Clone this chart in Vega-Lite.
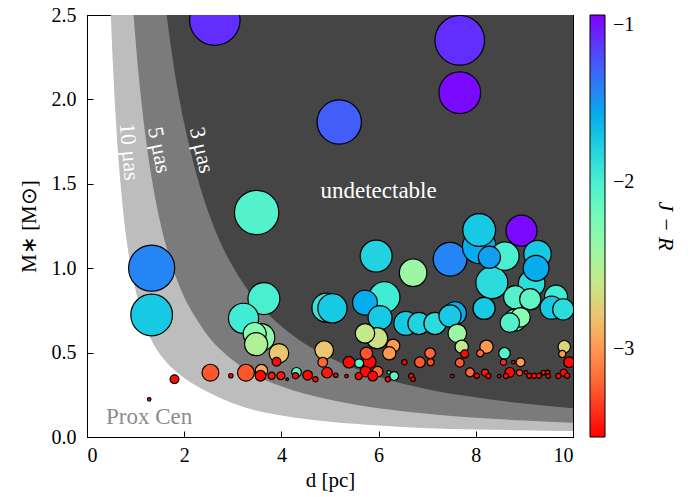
{
  "$schema": "https://vega.github.io/schema/vega-lite/v6.json",
  "width": 486,
  "height": 422,
  "autosize": {"type": "none"},
  "padding": {"left": 87, "top": 15, "right": 124, "bottom": 60},
  "background": "white",
  "config": {
    "view": {"stroke": "black", "strokeWidth": 1},
    "font": "Liberation Serif",
    "axis": {
      "grid": false,
      "domainColor": "black",
      "tickColor": "black",
      "labelColor": "black",
      "titleColor": "black",
      "labelFont": "Liberation Serif",
      "titleFont": "Liberation Serif",
      "labelFontSize": 20,
      "titleFontSize": 21,
      "titleFontWeight": "normal",
      "tickSize": -6,
      "labelPadding": 14,
      "tickWidth": 1
    }
  },
  "datasets": {
    "c10": [
      {"d": 0.35, "m": 4.15}, {"d": 0.4, "m": 3.4}, {"d": 0.45, "m": 2.85}, {"d": 0.5, "m": 2.43},
      {"d": 0.55, "m": 2.11}, {"d": 0.6, "m": 1.85}, {"d": 0.7, "m": 1.47}, {"d": 0.8, "m": 1.2},
      {"d": 0.9, "m": 1.01}, {"d": 1.0, "m": 0.87}, {"d": 1.2, "m": 0.66}, {"d": 1.4, "m": 0.535},
      {"d": 1.6, "m": 0.455}, {"d": 1.8, "m": 0.395}, {"d": 2.0, "m": 0.35}, {"d": 2.5, "m": 0.265},
      {"d": 3.0, "m": 0.2}, {"d": 3.5, "m": 0.155}, {"d": 4.0, "m": 0.127}, {"d": 5.0, "m": 0.09},
      {"d": 6.0, "m": 0.068}, {"d": 7.0, "m": 0.052}, {"d": 8.0, "m": 0.045}, {"d": 9.0, "m": 0.04},
      {"d": 10.0, "m": 0.035}
    ],
    "c5": [
      {"d": 0.8, "m": 3.28}, {"d": 0.9, "m": 2.75}, {"d": 1.0, "m": 2.35}, {"d": 1.1, "m": 2.04},
      {"d": 1.2, "m": 1.79}, {"d": 1.35, "m": 1.5}, {"d": 1.5, "m": 1.28}, {"d": 1.75, "m": 1.015},
      {"d": 2.0, "m": 0.83}, {"d": 2.25, "m": 0.7}, {"d": 2.5, "m": 0.595}, {"d": 3.0, "m": 0.455},
      {"d": 3.5, "m": 0.36}, {"d": 4.0, "m": 0.3}, {"d": 5.0, "m": 0.22}, {"d": 6.0, "m": 0.17},
      {"d": 7.0, "m": 0.138}, {"d": 8.0, "m": 0.114}, {"d": 9.0, "m": 0.098}, {"d": 10.0, "m": 0.085}
    ],
    "c3": [
      {"d": 1.4, "m": 3.17}, {"d": 1.5, "m": 2.86}, {"d": 1.64, "m": 2.5}, {"d": 1.8, "m": 2.17},
      {"d": 2.0, "m": 1.86}, {"d": 2.25, "m": 1.56}, {"d": 2.5, "m": 1.33}, {"d": 2.75, "m": 1.15},
      {"d": 3.0, "m": 1.01}, {"d": 3.5, "m": 0.8}, {"d": 4.0, "m": 0.656}, {"d": 4.5, "m": 0.55},
      {"d": 5.0, "m": 0.47}, {"d": 6.0, "m": 0.357}, {"d": 7.0, "m": 0.283}, {"d": 8.0, "m": 0.235},
      {"d": 9.0, "m": 0.198}, {"d": 10.0, "m": 0.17}
    ],
    "stars": [
      {"d": 2.63, "m": 2.47, "r": 57, "jr": -1.15},
      {"d": 7.67, "m": 2.35, "r": 56, "jr": -1.15},
      {"d": 7.67, "m": 2.04, "r": 47, "jr": -1.03},
      {"d": 5.19, "m": 1.866, "r": 50, "jr": -1.3},
      {"d": 3.49, "m": 1.33, "r": 50, "jr": -2.05},
      {"d": 1.33, "m": 1.0, "r": 52, "jr": -1.45},
      {"d": 1.33, "m": 0.723, "r": 47, "jr": -1.75},
      {"d": 1.28, "m": 0.223, "r": 4, "jr": -3.5},
      {"d": 1.8, "m": 0.342, "r": 10, "jr": -3.5},
      {"d": 2.54, "m": 0.381, "r": 19, "jr": -3.25},
      {"d": 2.96, "m": 0.363, "r": 5, "jr": -3.5},
      {"d": 3.27, "m": 0.381, "r": 19, "jr": -3.25},
      {"d": 3.22, "m": 0.703, "r": 34, "jr": -1.95},
      {"d": 3.64, "m": 0.82, "r": 36, "jr": -2.0},
      {"d": 3.45, "m": 0.61, "r": 26, "jr": -2.3},
      {"d": 3.48, "m": 0.55, "r": 26, "jr": -2.5},
      {"d": 3.58, "m": 0.59, "r": 31, "jr": -2.35},
      {"d": 3.95, "m": 0.496, "r": 22, "jr": -2.8},
      {"d": 3.9, "m": 0.446, "r": 10, "jr": -3.5},
      {"d": 3.59, "m": 0.393, "r": 14, "jr": -2.95},
      {"d": 3.57, "m": 0.363, "r": 12, "jr": -3.5},
      {"d": 3.8, "m": 0.363, "r": 8, "jr": -3.45},
      {"d": 3.99, "m": 0.363, "r": 9, "jr": -3.45},
      {"d": 4.12, "m": 0.342, "r": 3, "jr": -3.5},
      {"d": 4.31, "m": 0.383, "r": 11, "jr": -2.05},
      {"d": 4.29, "m": 0.363, "r": 7, "jr": -3.5},
      {"d": 4.54, "m": 0.366, "r": 11, "jr": -3.5},
      {"d": 4.7, "m": 0.342, "r": 6, "jr": -3.5},
      {"d": 4.94, "m": 0.381, "r": 12, "jr": -3.45},
      {"d": 4.85, "m": 0.443, "r": 11, "jr": -3.2},
      {"d": 4.88, "m": 0.515, "r": 21, "jr": -2.8},
      {"d": 5.12, "m": 0.366, "r": 5, "jr": -3.5},
      {"d": 4.93, "m": 0.766, "r": 33, "jr": -1.9},
      {"d": 5.05, "m": 0.762, "r": 33, "jr": -1.75},
      {"d": 5.95, "m": 1.072, "r": 36, "jr": -1.8},
      {"d": 6.71, "m": 0.973, "r": 31, "jr": -2.4},
      {"d": 7.47, "m": 1.053, "r": 38, "jr": -1.45},
      {"d": 6.12, "m": 0.828, "r": 35, "jr": -1.95},
      {"d": 5.72, "m": 0.796, "r": 28, "jr": -1.6},
      {"d": 6.03, "m": 0.707, "r": 27, "jr": -1.75},
      {"d": 6.56, "m": 0.673, "r": 27, "jr": -1.75},
      {"d": 6.83, "m": 0.673, "r": 25, "jr": -1.8},
      {"d": 7.16, "m": 0.673, "r": 25, "jr": -1.85},
      {"d": 5.72, "m": 0.614, "r": 22, "jr": -2.6},
      {"d": 5.97, "m": 0.585, "r": 24, "jr": -2.65},
      {"d": 6.3, "m": 0.541, "r": 15, "jr": -3.0},
      {"d": 6.22, "m": 0.496, "r": 15, "jr": -3.0},
      {"d": 7.57, "m": 0.733, "r": 26, "jr": -1.6},
      {"d": 7.47, "m": 0.717, "r": 25, "jr": -1.75},
      {"d": 7.62, "m": 0.614, "r": 21, "jr": -2.4},
      {"d": 7.71, "m": 0.535, "r": 15, "jr": -2.6},
      {"d": 7.77, "m": 0.492, "r": 9, "jr": -3.5},
      {"d": 8.22, "m": 0.535, "r": 15, "jr": -3.0},
      {"d": 8.09, "m": 0.496, "r": 8, "jr": -3.2},
      {"d": 8.59, "m": 0.496, "r": 13, "jr": -2.05},
      {"d": 8.92, "m": 0.443, "r": 10, "jr": -3.0},
      {"d": 8.57, "m": 0.443, "r": 7, "jr": -3.4},
      {"d": 8.77, "m": 0.443, "r": 4, "jr": -3.5},
      {"d": 9.82, "m": 0.535, "r": 14, "jr": -2.7},
      {"d": 9.78, "m": 0.492, "r": 8, "jr": -3.0},
      {"d": 9.92, "m": 0.443, "r": 12, "jr": -3.5},
      {"d": 8.07, "m": 1.226, "r": 37, "jr": -1.75},
      {"d": 8.07, "m": 1.127, "r": 38, "jr": -1.6},
      {"d": 8.94, "m": 1.222, "r": 35, "jr": -1.03},
      {"d": 8.6, "m": 1.072, "r": 32, "jr": -2.0},
      {"d": 9.27, "m": 1.084, "r": 31, "jr": -1.75},
      {"d": 9.24, "m": 1.0, "r": 29, "jr": -1.6},
      {"d": 8.33, "m": 0.914, "r": 36, "jr": -1.85},
      {"d": 9.15, "m": 0.91, "r": 30, "jr": -1.85},
      {"d": 8.28, "m": 1.065, "r": 25, "jr": -1.55},
      {"d": 8.81, "m": 0.828, "r": 26, "jr": -2.05},
      {"d": 9.12, "m": 0.816, "r": 24, "jr": -2.1},
      {"d": 9.65, "m": 0.831, "r": 26, "jr": -1.95},
      {"d": 9.56, "m": 0.766, "r": 26, "jr": -1.75},
      {"d": 9.8, "m": 0.756, "r": 24, "jr": -1.85},
      {"d": 8.17, "m": 0.762, "r": 25, "jr": -1.75},
      {"d": 8.81, "m": 0.693, "r": 25, "jr": -2.1},
      {"d": 8.92, "m": 0.709, "r": 22, "jr": -2.3},
      {"d": 8.7, "m": 0.677, "r": 22, "jr": -2.05},
      {"d": 5.34, "m": 0.361, "r": 4, "jr": -3.5},
      {"d": 5.39, "m": 0.443, "r": 13, "jr": -3.5},
      {"d": 5.6, "m": 0.437, "r": 10, "jr": -2.1},
      {"d": 5.81, "m": 0.446, "r": 15, "jr": -3.5},
      {"d": 5.75, "m": 0.496, "r": 14, "jr": -3.25},
      {"d": 5.73, "m": 0.387, "r": 12, "jr": -3.5},
      {"d": 5.98, "m": 0.387, "r": 12, "jr": -3.2},
      {"d": 5.88, "m": 0.361, "r": 11, "jr": -3.5},
      {"d": 5.59, "m": 0.361, "r": 8, "jr": -3.5},
      {"d": 6.19, "m": 0.342, "r": 6, "jr": -3.5},
      {"d": 6.32, "m": 0.361, "r": 10, "jr": -2.1},
      {"d": 6.21, "m": 0.383, "r": 4, "jr": -2.1},
      {"d": 6.67, "m": 0.361, "r": 6, "jr": -3.5},
      {"d": 6.71, "m": 0.342, "r": 5, "jr": -3.5},
      {"d": 6.53, "m": 0.443, "r": 6, "jr": -3.5},
      {"d": 6.85, "m": 0.443, "r": 12, "jr": -3.25},
      {"d": 7.06, "m": 0.496, "r": 12, "jr": -3.2},
      {"d": 7.07, "m": 0.443, "r": 8, "jr": -3.3},
      {"d": 7.67, "m": 0.44, "r": 10, "jr": -3.25},
      {"d": 7.52, "m": 0.361, "r": 4, "jr": -3.5},
      {"d": 7.88, "m": 0.383, "r": 10, "jr": -3.2},
      {"d": 8.02, "m": 0.363, "r": 6, "jr": -3.5},
      {"d": 8.19, "m": 0.381, "r": 8, "jr": -3.45},
      {"d": 8.26, "m": 0.361, "r": 6, "jr": -3.5},
      {"d": 8.48, "m": 0.361, "r": 4, "jr": -3.5},
      {"d": 8.7, "m": 0.383, "r": 11, "jr": -3.5},
      {"d": 8.62, "m": 0.361, "r": 6, "jr": -3.5},
      {"d": 8.9, "m": 0.381, "r": 7, "jr": -3.3},
      {"d": 9.03, "m": 0.383, "r": 4, "jr": -3.5},
      {"d": 9.1, "m": 0.363, "r": 6, "jr": -3.5},
      {"d": 9.2, "m": 0.363, "r": 6, "jr": -3.5},
      {"d": 9.3, "m": 0.363, "r": 6, "jr": -3.5},
      {"d": 9.39, "m": 0.381, "r": 5, "jr": -3.5},
      {"d": 9.48, "m": 0.383, "r": 5, "jr": -3.5},
      {"d": 9.49, "m": 0.361, "r": 5, "jr": -3.5},
      {"d": 9.7, "m": 0.361, "r": 6, "jr": -3.5},
      {"d": 9.81, "m": 0.381, "r": 8, "jr": -3.5},
      {"d": 9.88, "m": 0.363, "r": 6, "jr": -3.5}
    ]
  },
  "layer": [
    {
      "data": {"name": "c10"},
      "mark": {"type": "area", "color": "#bdbdbd", "clip": true, "interpolate": "monotone"},
      "encoding": {
        "x": {"field": "d", "type": "quantitative", "scale": {"domain": [0, 10], "nice": false, "zero": false},
              "axis": {"orient": "bottom", "title": "d [pc]", "values": [0, 2, 4, 6, 8, 10], "format": "d", "titlePadding": 4,
                       "labelFont": "Liberation Serif", "titleFont": "Liberation Serif"}},
        "y": {"field": "m", "type": "quantitative", "scale": {"domain": [0, 2.5], "nice": false},
              "axis": {"orient": "left", "title": "M∗ [M⊙]", "values": [0, 0.5, 1, 1.5, 2, 2.5], "format": ".1f", "titlePadding": 12,
                       "labelPadding": 17, "labelFont": "Liberation Serif", "titleFont": "Liberation Serif"}},
        "y2": {"datum": 2.5}
      }
    },
    {
      "data": {"name": "c5"},
      "mark": {"type": "area", "color": "#7b7b7b", "clip": true, "interpolate": "monotone"},
      "encoding": {
        "x": {"field": "d", "type": "quantitative", "axis": {"orient": "top", "title": null, "labels": false, "values": [0, 2, 4, 6, 8, 10]}},
        "y": {"field": "m", "type": "quantitative", "axis": {"orient": "right", "title": null, "labels": false, "values": [0, 0.5, 1, 1.5, 2, 2.5]}},
        "y2": {"datum": 2.5}
      }
    },
    {
      "data": {"name": "c3"},
      "mark": {"type": "area", "color": "#454545", "clip": true, "interpolate": "monotone"},
      "encoding": {
        "x": {"field": "d", "type": "quantitative", "axis": null},
        "y": {"field": "m", "type": "quantitative", "axis": null},
        "y2": {"datum": 2.5}
      }
    },
    {
      "data": {"values": [{"t": "undetectable", "d": 6.0, "m": 1.46}]},
      "mark": {"type": "text", "color": "white", "fontSize": 23, "font": "Liberation Serif", "align": "center", "baseline": "middle"},
      "encoding": {
        "x": {"field": "d", "type": "quantitative", "axis": null},
        "y": {"field": "m", "type": "quantitative", "axis": null},
        "text": {"field": "t"}
      }
    },
    {
      "data": {"values": [{"t": "10 μas", "d": 0.87, "m": 1.69}]},
      "mark": {"type": "text", "color": "white", "fontSize": 22, "font": "Liberation Serif", "align": "center", "baseline": "middle", "angle": 85},
      "encoding": {
        "x": {"field": "d", "type": "quantitative", "axis": null},
        "y": {"field": "m", "type": "quantitative", "axis": null},
        "text": {"field": "t"}
      }
    },
    {
      "data": {"values": [{"t": "5 μas", "d": 1.49, "m": 1.7}]},
      "mark": {"type": "text", "color": "white", "fontSize": 22, "font": "Liberation Serif", "align": "center", "baseline": "middle", "angle": 79},
      "encoding": {
        "x": {"field": "d", "type": "quantitative", "axis": null},
        "y": {"field": "m", "type": "quantitative", "axis": null},
        "text": {"field": "t"}
      }
    },
    {
      "data": {"values": [{"t": "3 μas", "d": 2.36, "m": 1.7}]},
      "mark": {"type": "text", "color": "white", "fontSize": 22, "font": "Liberation Serif", "align": "center", "baseline": "middle", "angle": 77},
      "encoding": {
        "x": {"field": "d", "type": "quantitative", "axis": null},
        "y": {"field": "m", "type": "quantitative", "axis": null},
        "text": {"field": "t"}
      }
    },
    {
      "data": {"values": [{"t": "Prox Cen", "d": 1.28, "m": 0.12}]},
      "mark": {"type": "text", "color": "#8c8c8c", "fontSize": 23, "font": "Liberation Serif", "align": "center", "baseline": "middle"},
      "encoding": {
        "x": {"field": "d", "type": "quantitative", "axis": null},
        "y": {"field": "m", "type": "quantitative", "axis": null},
        "text": {"field": "t"}
      }
    },
    {
      "data": {"name": "stars"},
      "mark": {"type": "circle", "stroke": "black", "strokeWidth": 1.2, "opacity": 1, "fillOpacity": 1, "clip": true},
      "encoding": {
        "x": {"field": "d", "type": "quantitative", "axis": null},
        "y": {"field": "m", "type": "quantitative", "axis": null},
        "size": {"field": "r", "type": "quantitative", "scale": {"type": "pow", "exponent": 2, "domain": [0, 60], "range": [0, 2827]}, "legend": null},
        "order": {"field": "r", "sort": "descending"},
        "fill": {
          "field": "jr", "type": "quantitative",
          "scale": {
            "domain": [-3.53, -3.21375, -2.8975, -2.58125, -2.265, -1.94875, -1.6325, -1.31625, -1.0],
            "range": ["#ff0000", "#ff6232", "#ffb462", "#c0ec8e", "#80ffb4", "#40ecd4", "#00b4ec", "#4062fa", "#8000ff"],
            "interpolate": "rgb"
          },
          "legend": {
            "title": "J − R",
            "orient": "right",
            "offset": 16,
            "padding": 0,
            "direction": "vertical",
            "gradientLength": 422,
            "gradientThickness": 15,
            "gradientStrokeColor": "black",
            "gradientStrokeWidth": 1,
            "values": [-3, -2, -1],
            "format": "d",
            "labelFont": "Liberation Serif",
            "labelFontSize": 20,
            "labelColor": "black",
            "labelOffset": 8,
            "labelBaseline": "middle",
            "labelOverlap": false,
            "titleOrient": "right",
            "titleAnchor": "middle",
            "titleFont": "Liberation Serif",
            "titleFontSize": 22,
            "titleFontStyle": "italic",
            "titleFontWeight": "normal",
            "titleColor": "black",
            "titlePadding": 20
          }
        }
      }
    }
  ],
  "resolve": {"axis": {"x": "independent", "y": "independent"}}
}
